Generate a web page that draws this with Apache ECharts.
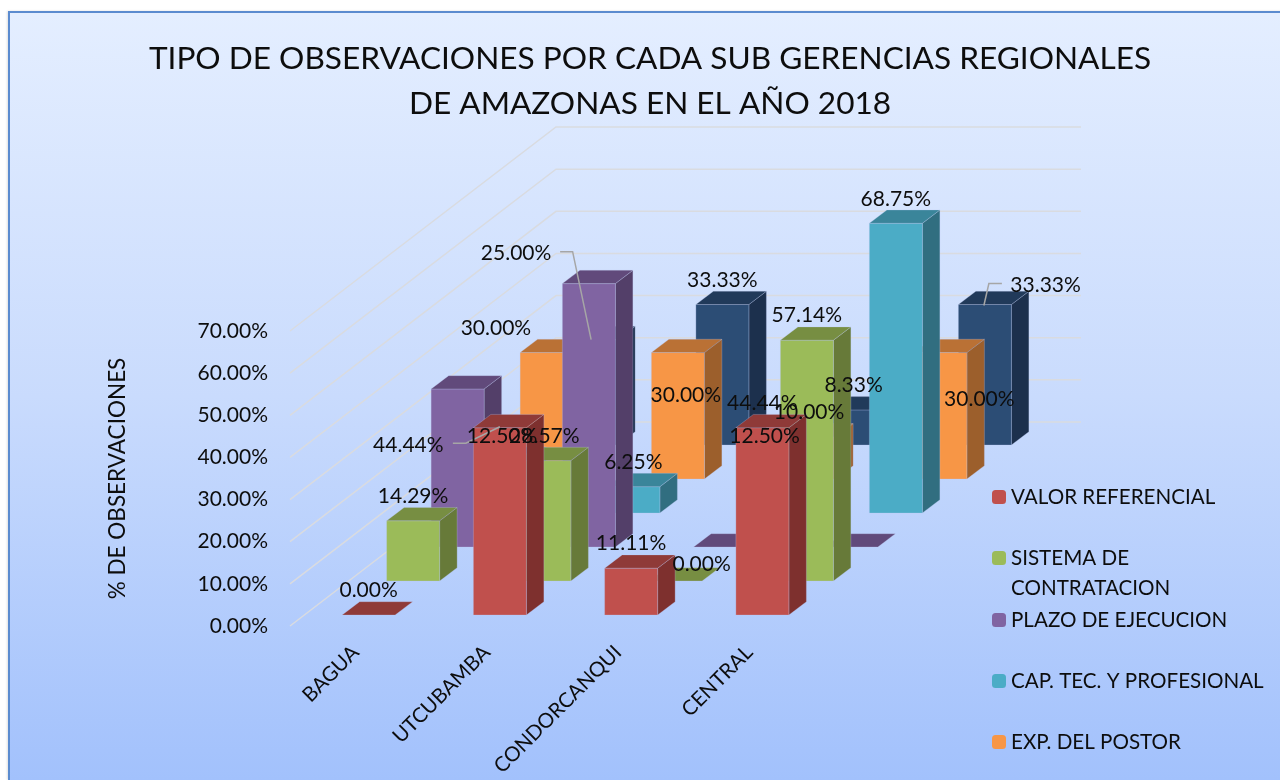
<!DOCTYPE html>
<html>
<head>
<meta charset="utf-8">
<script src="https://cdn.jsdelivr.net/npm/echarts@6/dist/echarts.min.js"></script>
<style>
html,body{margin:0;padding:0;background:#fff;width:1280px;height:780px;overflow:hidden}
#panel{position:absolute;left:8px;top:11px;width:1400px;height:767px;border:2px solid #5B8BCF;border-bottom:none;
background:linear-gradient(180deg,#E4EEFF 0%,#C9DBFD 50%,#A2C1FC 100%);box-shadow:-1px 0 2px rgba(0,0,0,.12)}
#chart{position:absolute;left:0;top:0;width:1280px;height:780px}
</style>
</head>
<body>
<div id="panel"></div>
<div id="chart"></div>
<script>
// ---------- data ----------
var categories = ['BAGUA', 'UTCUBAMBA', 'CONDORCANQUI', 'CENTRAL'];
var valorReferencial = [0, 44.44, 11.11, 44.44];
var sistemaContratacion = [14.29, 28.57, 0, 57.14];
var plazoEjecucion = [37.5, 62.5, 0, 0];
var capTecProfesional = [12.5, 6.25, 12.5, 68.75];
var expPostor = [30, 30, 10, 30];
var otros = [25, 33.33, 8.33, 33.33];
var seriesNames = ['VALOR REFERENCIAL', 'SISTEMA DE CONTRATACION', 'PLAZO DE EJECUCION', 'CAP. TEC. Y PROFESIONAL', 'EXP. DEL POSTOR', 'OTROS'];
var yTicks = [0, 10, 20, 30, 40, 50, 60, 70];
var titleText = 'TIPO DE OBSERVACIONES POR CADA SUB GERENCIAS REGIONALES\nDE AMAZONAS EN EL AÑO 2018';
var yAxisTitle = '% DE OBSERVACIONES';

// ---------- styling / projection ----------
var seriesValues = [valorReferencial, sistemaContratacion, plazoEjecucion, capTecProfesional, expPostor, otros];
var faces = [
  {front:'#C0504D', top:'#8F3A38', side:'#7E302E'},
  {front:'#9BBB59', top:'#778E42', side:'#677A39'},
  {front:'#8064A2', top:'#614A7B', side:'#533F69'},
  {front:'#4BACC6', top:'#3A859A', side:'#316E80'},
  {front:'#F79646', top:'#BA7135', side:'#9C5F2C'},
  {front:'#2C4D75', top:'#213A5A', side:'#1C304D'}
];
var FONT = 'Lato, "Open Sans", sans-serif';
var DEPTH = {x: 44.5, y: 34};         // shift per series row
var FIRST = {x: 13, y: 11};           // shift of the first row from the floor edge
var BAR = {w: 53, dx: 17.5, dy: 13.3};
var WALL = {x: 266, y: 204};
var SHOW_LABEL = [true, true, false, true, true, true];
// label shift from the top-front centre of its bar (default: above)
var DEFAULT_SHIFT = [0, -24.5];
var labelShift = {
  '0,1': [-91.5, 18], '1,2': [26, -17],
  '4,0': [-50.7, -24], '4,1': [8, 43], '4,3': [39, 47],
  '5,0': [-75, -86.7], '5,3': [60.7, -19]
};
// leader lines, relative to the same top-front centre
var leaders = {
  '0,1': [[-47, 15.5], [-34, 15.5], [0, -1]],
  '5,0': [[-31, -88], [-18.5, -88], [0, 0]],
  '5,3': [[-1, 1], [4, -21], [17, -21]]
};

function anchor(api, c, v, s) {
  var p = api.coord([c, v]);
  return [p[0] + FIRST.x + DEPTH.x * s, p[1] - FIRST.y - DEPTH.y * s];
}
function poly(pts, fill) {
  return {type: 'polygon', shape: {points: pts},
    style: {fill: fill, stroke: 'rgba(190,200,240,0.35)', lineWidth: 0.8}};
}
function barRenderer(s) {
  return function (params, api) {
    var c = api.value(0), v = api.value(1);
    var t = anchor(api, c, v, s), b = anchor(api, c, 0, s);
    var l = t[0] - BAR.w / 2, r = t[0] + BAR.w / 2;
    var kids = [];
    if (b[1] - t[1] > 0.5) {
      kids.push(poly([[r, t[1]], [r + BAR.dx, t[1] - BAR.dy], [r + BAR.dx, b[1] - BAR.dy], [r, b[1]]], faces[s].side));
      kids.push(poly([[l, t[1]], [r, t[1]], [r, b[1]], [l, b[1]]], faces[s].front));
    }
    kids.push(poly([[l, t[1]], [l + BAR.dx, t[1] - BAR.dy], [r + BAR.dx, t[1] - BAR.dy], [r, t[1]]], faces[s].top));
    return {type: 'group', children: kids};
  };
}
function gridRenderer(params, api) {
  var p = api.coord([0, api.value(1)]);
  var band = api.size([1, 0])[0];
  var L = p[0] - band / 2, R = L + band * categories.length;
  return {type: 'polyline',
    shape: {points: [[L, p[1]], [L + WALL.x, p[1] - WALL.y], [R + WALL.x, p[1] - WALL.y]]},
    style: {stroke: '#D9DBE0', lineWidth: 1.5, fill: null}};
}
function labelRenderer(params, api) {
  var s = api.value(2), c = api.value(0), v = api.value(1);
  var t = anchor(api, c, v, s), key = s + ',' + c;
  var sh = labelShift[key] || DEFAULT_SHIFT, kids = [];
  if (leaders[key]) {
    kids.push({type: 'polyline',
      shape: {points: leaders[key].map(function (o) { return [t[0] + o[0], t[1] + o[1]]; })},
      style: {stroke: '#A6A6A6', lineWidth: 1.5, fill: null}});
  }
  kids.push({type: 'text', z2: 5, style: {
    text: v.toFixed(2) + '%', x: t[0] + sh[0], y: t[1] + sh[1],
    align: 'center', verticalAlign: 'middle', font: '21px ' + FONT, fill: '#0D0D0D'}});
  return {type: 'group', children: kids};
}

var series = [{
  type: 'custom', name: 'grid', z: 1, silent: true, renderItem: gridRenderer,
  encode: {x: 0, y: 1},
  data: yTicks.map(function (v) { return [0, v]; })
}];
seriesValues.forEach(function (vals, s) {
  series.push({
    type: 'custom', name: seriesNames[s], z: 20 - s, silent: true,
    renderItem: barRenderer(s), encode: {x: 0, y: 1},
    itemStyle: {color: faces[s].front},
    data: vals.map(function (v, c) { return [c, v]; })
  });
});
var labelRows = [];
seriesValues.forEach(function (vals, s) {
  if (!SHOW_LABEL[s]) return;
  vals.forEach(function (v, c) { labelRows.push([c, v, s]); });
});
series.push({type: 'custom', name: 'labels', z: 40, silent: true, renderItem: labelRenderer,
  encode: {x: 0, y: 1}, data: labelRows});

var legendCenters = [497, 558, 620, 681, 742];
var legendLine = 30;
var legends = legendCenters.map(function (yc, i) {
  var multi = seriesNames[i].indexOf('SISTEMA') === 0;
  return {
    data: [seriesNames[i]], orient: 'vertical', left: 992,
    top: yc - (multi ? 1.5 : 0.5) * legendLine,
    itemWidth: 14, itemHeight: 14, itemGap: 0, padding: 0, selectedMode: false,
    textStyle: {fontFamily: FONT, fontSize: 20.6, color: '#0D0D0D', lineHeight: legendLine},
    formatter: function (n) { return multi ? '\nSISTEMA DE\nCONTRATACION' : n; }
  };
});

var chart = echarts.init(document.getElementById('chart'), null, {renderer: 'canvas'});
chart.setOption({
  animation: false,
  backgroundColor: 'transparent',
  title: {text: titleText, left: 645, top: 31, textAlign: 'center',
    textStyle: {fontFamily: FONT, fontSize: 31.6, fontWeight: 'normal', color: '#0D0D0D', lineHeight: 45}},
  legend: legends,
  grid: {left: 290, top: 331, width: 525, height: 295, containLabel: false},
  xAxis: {type: 'category', data: categories,
    axisLine: {show: false}, axisTick: {show: false}, splitLine: {show: false},
    axisLabel: {rotate: 45, margin: 23, interval: 0, fontFamily: FONT, fontSize: 20.5, color: '#0D0D0D'}},
  yAxis: {type: 'value', min: 0, max: 70, interval: 10,
    name: yAxisTitle, nameLocation: 'middle', nameGap: 161, nameRotate: 90,
    nameTextStyle: {fontFamily: FONT, fontSize: 22.5, color: '#0D0D0D'},
    axisLine: {show: false}, axisTick: {show: false}, splitLine: {show: false},
    axisLabel: {margin: 22, fontFamily: FONT, fontSize: 21, color: '#0D0D0D', padding: [2, 0, 0, 0],
      formatter: function (v) { return v.toFixed(2) + '%'; }}},
  series: series
});
</script>
</body>
</html>
